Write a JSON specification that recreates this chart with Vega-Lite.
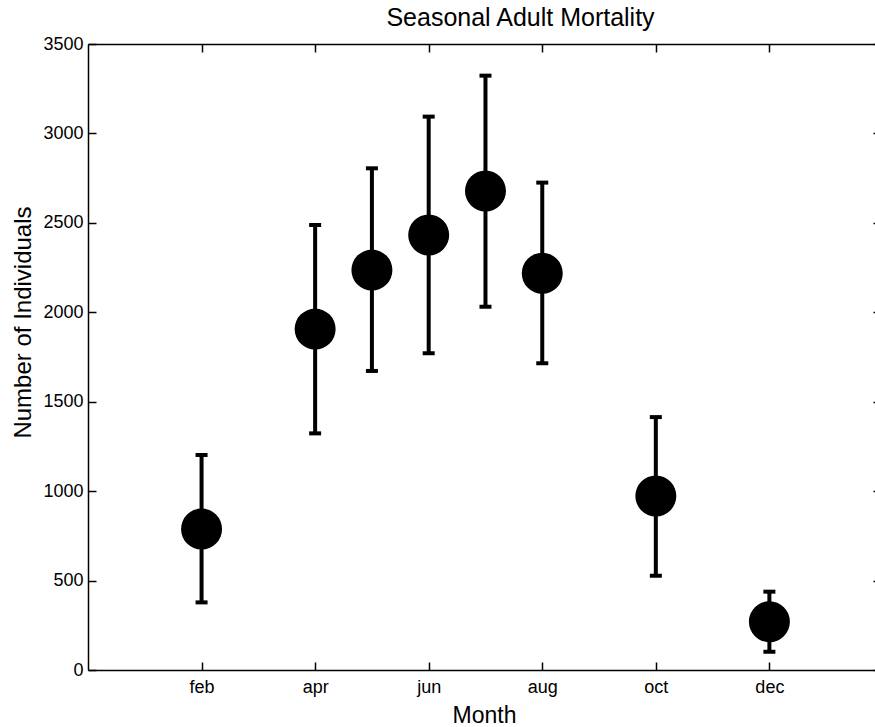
{
  "$schema": "https://vega.github.io/schema/vega-lite/v6.json",
  "width": 787,
  "height": 626,
  "autosize": {"type": "none"},
  "padding": {"left": 88, "top": 44, "right": 0, "bottom": 57},
  "background": "white",
  "title": {"text": "Seasonal Adult Mortality", "font": "Liberation Sans", "fontSize": 25, "fontWeight": "normal", "color": "black", "anchor": "middle", "dx": 39, "dy": 31, "offset": 10, "baseline": "bottom"},
  "config": {
    "view": {"stroke": null},
    "axis": {"domainColor": "black", "domainWidth": 1.5, "tickColor": "black", "tickWidth": 1.5, "labelColor": "black", "titleColor": "black", "labelFont": "Liberation Sans", "titleFont": "Liberation Sans", "labelFontSize": 18, "titleFontSize": 23, "titleFontWeight": "normal", "grid": false}
  },
  "data": {"values": [
    {"month": 2, "mid": 788, "lo": 378, "hi": 1202},
    {"month": 4, "mid": 1906, "lo": 1323, "hi": 2488},
    {"month": 5, "mid": 2236, "lo": 1672, "hi": 2805},
    {"month": 6, "mid": 2432, "lo": 1771, "hi": 3094},
    {"month": 7, "mid": 2678, "lo": 2031, "hi": 3323},
    {"month": 8, "mid": 2218, "lo": 1715, "hi": 2725},
    {"month": 10, "mid": 973, "lo": 527, "hi": 1414},
    {"month": 12, "mid": 270, "lo": 102, "hi": 438}
  ]},
  "layer": [
    {
      "mark": {"type": "rule", "color": "black", "strokeWidth": 4},
      "encoding": {
        "x": {"field": "month", "type": "quantitative", "scale": {"domain": [0, 13.86], "nice": false, "zero": false},
          "axis": {"orient": "bottom", "values": [2, 4, 6, 8, 10, 12], "labelExpr": "['jan','feb','mar','apr','may','jun','jul','aug','sep','oct','nov','dec'][datum.value-1]", "tickSize": -8, "labelPadding": 16, "labelBaseline": "top", "title": "Month", "titleX": 396, "titleY": 52, "titleBaseline": "alphabetic", "titleAnchor": null, "titleAlign": "center"}},
        "y": {"field": "lo", "type": "quantitative", "scale": {"domain": [0, 3500], "nice": false},
          "axis": {"orient": "left", "values": [0, 500, 1000, 1500, 2000, 2500, 3000, 3500], "format": "d", "tickSize": -8, "labelPadding": 13, "title": "Number of Individuals", "titleFontSize": 24, "titleAngle": -90, "titleX": -58, "titleY": 278, "titleBaseline": "alphabetic", "titleAlign": "center", "titleAnchor": null}},
        "y2": {"field": "hi"}
      }
    },
    {
      "mark": {"type": "tick", "orient": "horizontal", "color": "black", "size": 12, "thickness": 4, "opacity": 1},
      "encoding": {
        "x": {"field": "month", "type": "quantitative", "axis": {"orient": "top", "values": [2, 4, 6, 8, 10, 12], "labels": false, "tickSize": -8, "title": null}},
        "y": {"field": "lo", "type": "quantitative", "axis": {"orient": "right", "values": [0, 500, 1000, 1500, 2000, 2500, 3000, 3500], "labels": false, "domain": false, "tickSize": -2, "title": null}}
      }
    },
    {
      "mark": {"type": "tick", "orient": "horizontal", "color": "black", "size": 12, "thickness": 4, "opacity": 1},
      "encoding": {
        "x": {"field": "month", "type": "quantitative", "axis": null},
        "y": {"field": "hi", "type": "quantitative", "axis": null}
      }
    },
    {
      "mark": {"type": "point", "shape": "circle", "filled": true, "color": "black", "opacity": 1, "size": 1680},
      "encoding": {
        "x": {"field": "month", "type": "quantitative", "axis": null},
        "y": {"field": "mid", "type": "quantitative", "axis": null}
      }
    }
  ],
  "resolve": {"axis": {"x": "independent", "y": "independent"}}
}
